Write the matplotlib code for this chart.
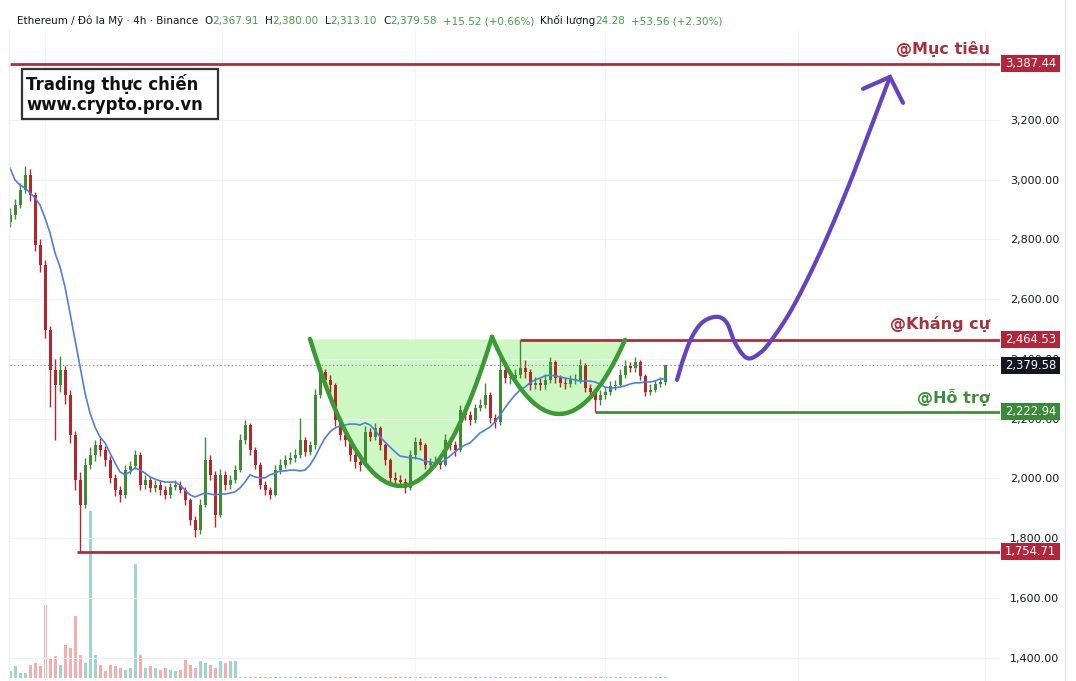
import numpy as np
import matplotlib
matplotlib.use('Agg')
import matplotlib.pyplot as plt
from matplotlib.patches import Rectangle
from matplotlib.lines import Line2D

# 4h candles (one per ~5px of the screenshot), oldest first
first_open = 2860
close = [2882, 2916, 2966, 3016, 2949, 2782, 2715, 2497, 2363, 2313,
         2363, 2280, 2145, 1995, 1911, 2045, 2078, 2112, 2095, 2062,
         2002, 1961, 1945, 2028, 2040, 2078, 1978, 1995, 1968, 1978,
         1961, 1945, 1971, 1978, 1961, 1928, 1861, 1827, 1911, 2062,
         2012, 1878, 2012, 1978, 1995, 2028, 2129, 2179, 2095, 2045,
         1978, 1961, 1945, 2028, 2045, 2062, 2069, 2078, 2129, 2089,
         2112, 2280, 2356, 2330, 2313, 2196, 2145, 2129, 2078, 2055,
         2045, 2155, 2139, 2169, 2112, 2062, 2002, 1995, 1988, 1968,
         2078, 2122, 2112, 2045, 2052, 2055, 2045, 2129, 2112, 2095,
         2229, 2213, 2196, 2236, 2246, 2280, 2202, 2189, 2363, 2336,
         2336, 2346, 2370, 2356, 2313, 2320, 2313, 2330, 2390, 2336,
         2320, 2316, 2330, 2330, 2380, 2303, 2290, 2263, 2280, 2290,
         2310, 2313, 2346, 2376, 2370, 2390, 2343, 2290, 2296, 2316,
         2323, 2379.58]
high = [2905, 2935, 2990, 3045, 3035, 2960, 2800, 2730, 2510, 2400,
        2410, 2375, 2295, 2160, 2020, 2070, 2105, 2130, 2135, 2110,
        2075, 2015, 1975, 2045, 2060, 2095, 2090, 2010, 2005, 1995,
        1990, 1975, 1985, 1995, 1990, 1970, 1935, 1875, 1930, 2140,
        2080, 2025, 2030, 2025, 2010, 2045, 2150, 2196, 2185, 2105,
        2055, 1990, 1970, 2045, 2065, 2080, 2090, 2100, 2202, 2140,
        2125, 2300, 2375, 2365, 2345, 2320, 2210, 2165, 2140, 2090,
        2070, 2175, 2170, 2185, 2175, 2120, 2070, 2020, 2010, 2000,
        2095, 2140, 2135, 2120, 2070, 2075, 2070, 2150, 2140, 2125,
        2245, 2245, 2225, 2250, 2265, 2320, 2290, 2215, 2407, 2380,
        2355, 2365, 2465, 2395, 2365, 2340, 2335, 2350, 2407, 2395,
        2345, 2335, 2345, 2350, 2400, 2385, 2315, 2300, 2295, 2305,
        2325, 2330, 2365, 2395, 2390, 2407, 2395, 2350, 2315, 2330,
        2340, 2380]
low = [2840, 2870, 2905, 2955, 2930, 2760, 2690, 2470, 2240, 2130,
       2290, 2250, 2120, 1960, 1755, 1900, 2030, 2060, 2075, 2040,
       1985, 1940, 1920, 1935, 2015, 2030, 1960, 1965, 1955, 1955,
       1945, 1930, 1935, 1960, 1950, 1910, 1845, 1805, 1815, 1905,
       1995, 1838, 1870, 1960, 1965, 1985, 2020, 2115, 2080, 2030,
       1965, 1945, 1930, 1940, 2015, 2035, 2050, 2055, 2070, 2075,
       2080, 2100, 2270, 2310, 2290, 2175, 2130, 2110, 2060, 2035,
       2025, 2040, 2125, 2130, 2095, 2045, 1985, 1975, 1970, 1950,
       1960, 2065, 2095, 2030, 2035, 2040, 2030, 2040, 2095, 2075,
       2090, 2195, 2180, 2185, 2225, 2235, 2185, 2170, 2180, 2320,
       2315, 2325, 2335, 2335, 2295, 2300, 2295, 2300, 2320, 2320,
       2305, 2300, 2305, 2315, 2320, 2290, 2275, 2223, 2245, 2265,
       2280, 2295, 2305, 2335, 2355, 2355, 2330, 2275, 2280, 2290,
       2305, 2313.1]
# blue moving average
ma = [3039, 2999, 2982, 2972, 2956, 2939, 2915, 2872, 2822, 2755,
      2708, 2641, 2554, 2464, 2373, 2286, 2219, 2172, 2139, 2119,
      2085, 2052, 2022, 2012, 2022, 2035, 2028, 2018, 2005, 1998,
      1992, 1988, 1988, 1988, 1978, 1961, 1945, 1938, 1945, 1951,
      1948, 1945, 1948, 1948, 1951, 1955, 1968, 1988, 2012, 2005,
      2002, 2002, 2012, 2018, 2025, 2025, 2028, 2028, 2025, 2028,
      2045, 2072, 2105, 2135, 2156, 2169, 2176, 2179, 2182, 2182,
      2179, 2186, 2179, 2162, 2139, 2122, 2105, 2089, 2075, 2072,
      2069, 2069, 2065, 2058, 2055, 2052, 2052, 2062, 2075, 2089,
      2102, 2112, 2119, 2135, 2152, 2162, 2172, 2189, 2212, 2236,
      2259, 2279, 2296, 2306, 2320, 2330, 2336, 2343, 2346, 2343,
      2340, 2336, 2333, 2330, 2326, 2326, 2326, 2323, 2316, 2306,
      2303, 2303, 2306, 2310, 2316, 2320, 2320, 2323, 2323, 2326,
      2333, 2333]
# volume (only the first part of the history has volume on this feed)
volume = [7, 12, 5, 5, 13, 15, 12, 73, 20, 22,
          13, 33, 30, 62, 23, 15, 167, 23, 13, 7,
          13, 12, 10, 8, 10, 114, 23, 10, 12, 10,
          8, 10, 8, 7, 8, 18, 13, 10, 17, 15,
          13, 10, 17, 15, 17, 17, 1, 1, 1, 1,
          1, 1, 1, 1, 1, 1, 1, 1, 1, 1,
          1, 1, 1, 1, 1, 1, 1, 1, 1, 1,
          1, 1, 1, 1, 1, 1, 1, 1, 1, 1,
          1, 1, 1, 1, 1, 1, 1, 1, 1, 1,
          1, 1, 1, 1, 1, 1, 1, 1, 1, 1,
          1, 1, 1, 1, 1, 1, 1, 1, 1, 1,
          1, 1, 1, 1, 1, 1, 1, 1, 1, 1,
          1, 1, 1, 1, 1, 1, 1, 1, 1, 1,
          1, 1]

target = 3387.44
resist = 2464.53
support = 2222.94
bottom = 1754.71
last = 2379.58
yticks = [1400, 1600, 1800, 2000, 2200, 2400, 2600, 2800, 3000, 3200, 3400]

# drawn pattern: cup and handle (bar index, price)
cup1 = [(60, 2467), (78.4, 1975), (96.4, 2474)]
cup2 = [(96.4, 2474), (109.6, 2216), (123, 2464)]
arrow_path = [(133.4, 2330), (134.6, 2397), (136.4, 2474), (138.6, 2524),
              (141.4, 2541), (143.4, 2520), (145, 2454), (147.4, 2403),
              (150, 2420), (152.6, 2470), (156.6, 2574), (162, 2755),
              (167.4, 2966), (172, 3167), (176, 3344)]
arrow_head = [(170.6, 3304), (176, 3344), (178.6, 3257)]

RED = '#a8313c'
REDBOX = '#b3263a'
GREEN = '#3f8f3a'
UP = '#3d8c33'
DOWN = '#b3262e'

W, H = 1076, 681
fig = plt.figure(figsize=(W / 100, H / 100), dpi=100)
fig.patch.set_facecolor('white')
rect = [8 / W, 0, 992 / W, 651 / H]
axv = fig.add_axes(rect)
ax = fig.add_axes(rect)
ax.patch.set_visible(False)

n = len(close)
xs = np.arange(n)
c = np.array(close, float)
o = np.array([first_open] + close[:-1], float)
hi = np.array(high, float)
lo = np.array(low, float)
up = c >= o

# volume underneath
vcol = np.where(up, '#92d2c8', '#f4a5a3')
axv.bar(xs, volume, width=0.6, color=vcol, alpha=0.9)
axv.set_ylim(-3, 648)
axv.set_xlim(-0.4, 198)
axv.axis('off')

ax.set_xlim(-0.4, 198)
ax.set_ylim(1322, 3501)

for px in [7, 42.4, 81, 119, 157.6, 195]:
    ax.axvline(px, color='#f3f4f7', lw=0.8, zorder=0)
ax.grid(axis='y', color='#f0f1f4', lw=0.8, zorder=0)

# cup fills
def parab(p):
    k = np.polyfit([q[0] for q in p], [q[1] for q in p], 2)
    xx = np.linspace(p[0][0], p[-1][0], 120)
    return xx, np.polyval(k, xx)

for cup in (cup1, cup2):
    xx, yy = parab(cup)
    ax.fill_between(xx, yy, 2467, color='#cdf8c4', zorder=1, lw=0)

# candles
cols = np.where(up, UP, DOWN)
ax.vlines(xs, lo, hi, colors=cols, lw=1, zorder=2)
body = np.maximum(np.abs(c - o), 3)
ax.bar(xs, body, bottom=np.minimum(o, c), width=0.6, color=cols, zorder=2)
ax.plot(xs, ma, color='#4d7ee6', lw=1.2, zorder=3)

for cup in (cup1, cup2):
    xx, yy = parab(cup)
    ax.plot(xx, yy, color='#3b9a34', lw=3.2, zorder=4, solid_capstyle='round')

# level lines
ax.hlines(target, 0, 198, color=RED, lw=2, zorder=3)
ax.hlines(resist, 102, 198, color=RED, lw=2, zorder=3)
ax.hlines(support, 117, 198, color=GREEN, lw=2, zorder=3)
ax.hlines(bottom, 13.4, 198, color=RED, lw=2, zorder=3)
ax.hlines(last, 0, 198, color='#8d909a', lw=0.9, linestyles=(0, (1, 2)), zorder=3)

# purple projection arrow
def catmull(pts, k=14):
    p = np.array(pts, float)
    p = np.vstack([p[0], p, p[-1]])
    out = []
    for i in range(1, len(p) - 2):
        p0, p1, p2, p3 = p[i - 1], p[i], p[i + 1], p[i + 2]
        for t in np.linspace(0, 1, k, endpoint=False):
            out.append(0.5 * (2 * p1 + (-p0 + p2) * t
                              + (2 * p0 - 5 * p1 + 4 * p2 - p3) * t ** 2
                              + (-p0 + 3 * p1 - 3 * p2 + p3) * t ** 3))
    out.append(p[-2])
    return np.array(out)

curve = catmull(arrow_path)
ax.plot(curve[:, 0], curve[:, 1], color='#6442c2', lw=3, zorder=5,
        solid_capstyle='round', solid_joinstyle='round')
ax.plot([q[0] for q in arrow_head], [q[1] for q in arrow_head], color='#6442c2',
        lw=3, zorder=5, solid_capstyle='round', solid_joinstyle='miter')

# right-hand texts
bold = dict(fontsize=11.5, fontweight='bold', ha='right', va='center', zorder=6)
ax.annotate('@Mục tiêu', (196, target), xytext=(0, 11), textcoords='offset points',
            color=RED, **bold)
ax.annotate('@Kháng cự', (196, resist), xytext=(0, 11.5), textcoords='offset points',
            color=RED, **bold)
ax.annotate('@Hỗ trợ', (196, support), xytext=(0, 10), textcoords='offset points',
            color=GREEN, **bold)

# price scale
ax.set_yticks(yticks)
ax.set_yticklabels(['{:,.2f}'.format(v) for v in yticks])
ax.yaxis.tick_right()
ax.tick_params(axis='y', length=0, pad=7, labelsize=8, labelcolor='#131722')
ax.tick_params(axis='x', bottom=False, labelbottom=False)
for s in ax.spines.values():
    s.set_visible(False)

# price tags on the scale (cover the tick label beneath, like the app does)
tr = ax.get_yaxis_transform()
ppx = (3501 - 1322) / 651.0
for val, bg in [(target, REDBOX), (resist, REDBOX), (last, '#131722'),
                (support, '#3a8a3a'), (bottom, REDBOX)]:
    ax.add_patch(Rectangle(((1001 - 8) / 992, val - 8.5 * ppx), 59 / 992, 17 * ppx,
                           transform=tr, fc=bg, ec='none', clip_on=False, zorder=10))
    ax.text((1030.5 - 8) / 992, val, '{:,.2f}'.format(val), transform=tr,
            ha='center', va='center', fontsize=8.3, color='white', clip_on=False,
            zorder=11)

fig.add_artist(Line2D([1065 / W, 1065 / W], [0, 1], color='#e3e5ea', lw=1))
fig.add_artist(Line2D([9 / W, 9 / W], [0, 651 / H], color='#eef0f3', lw=1))

# watermark box
fig.add_artist(Rectangle((22 / W, 1 - 119 / H), 196 / W, 50 / H, transform=fig.transFigure,
                         fc='white', ec='#333333', lw=1.6, zorder=8))
fig.text(26 / W, 1 - 94 / H, 'Trading thực chiến\nwww.crypto.pro.vn', fontsize=11.9,
         fontweight='bold', color='#111111', va='center', ha='left', linespacing=1.1,
         zorder=9)

# header line
hdr = [('Ethereum / Đô la Mỹ · 4h · Binance', '#131722', 6), ('O', '#131722', 0),
       ('2,367.91', '#43a047', 6), ('H', '#131722', 0), ('2,380.00', '#43a047', 6),
       ('L', '#131722', 0), ('2,313.10', '#43a047', 6), ('C', '#131722', 0),
       ('2,379.58', '#43a047', 6), ('+15.52 (+0.66%)', '#43a047', 6),
       ('Khối lượng', '#131722', 0), ('24.28', '#43a047', 6),
       ('+53.56 (+2.30%)', '#43a047', 0)]
r = fig.canvas.get_renderer()
x = 17
for s, col, gap in hdr:
    t = fig.text(x / W, 1 - 21 / H, s, color=col, fontsize=7.5,
                 va='center', ha='left')
    x += t.get_window_extent(renderer=r).width + gap

fig.savefig('out.png', dpi=100)
